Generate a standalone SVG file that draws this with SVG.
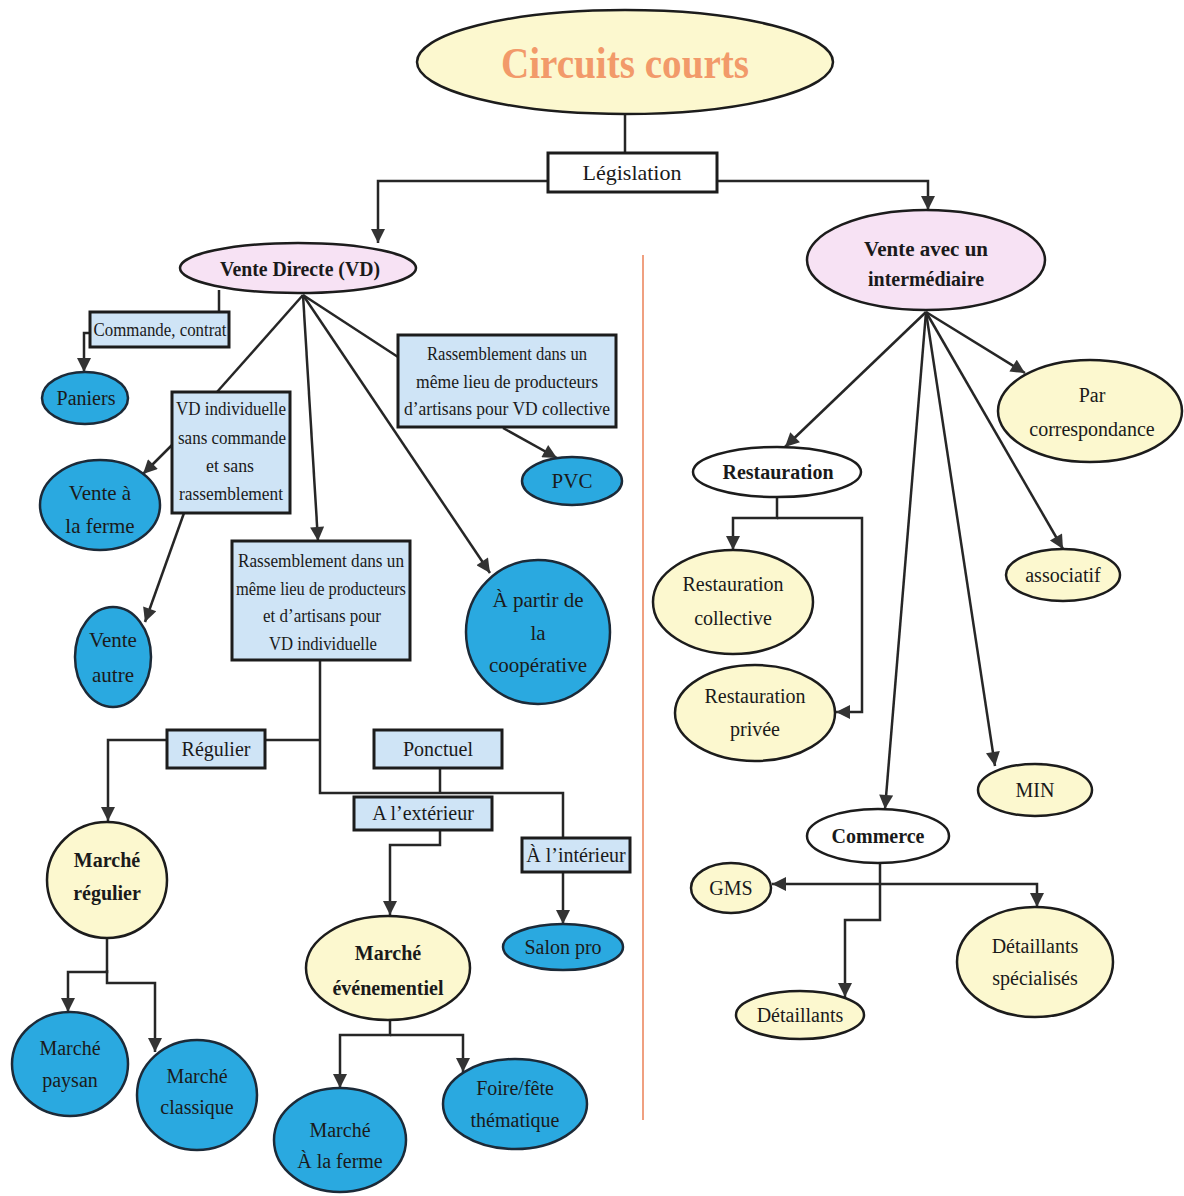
<svg xmlns="http://www.w3.org/2000/svg" width="1184" height="1196" viewBox="0 0 1184 1196">
<style>
text{font-family:"Liberation Serif","Times New Roman",serif;fill:#1a1a1a;text-anchor:middle}
.t{font-size:20px}
.s{font-size:18px}
.b{font-size:20px;font-weight:bold}
.blue{fill:#2aa9e0;stroke:#1c2a38;stroke-width:2.5}
.yel{fill:#fcf8cf;stroke:#1c1c1c;stroke-width:2.5}
.pink{fill:#f7e2f4;stroke:#1c1c1c;stroke-width:2.5}
.wht{fill:#ffffff;stroke:#1c1c1c;stroke-width:2.5}
.box{fill:#cfe4f6;stroke:#1c1c1c;stroke-width:3}
.wbox{fill:#ffffff;stroke:#1c1c1c;stroke-width:3}
.c path{fill:none;stroke:#262626;stroke-width:2.5}
.c path.a{marker-end:url(#ah)}
</style>
<defs>
<marker id="ah" viewBox="0 0 10 10" refX="10" refY="5" markerUnits="userSpaceOnUse" markerWidth="16" markerHeight="14" orient="auto">
<path d="M0,0 L10,5 L0,10 z" fill="#333"/>
</marker>
</defs>
<rect width="1184" height="1196" fill="#ffffff"/>
<line x1="643" y1="255" x2="643" y2="1120" stroke="#f0a080" stroke-width="2"/>

<g class="c" id="connectors">
<path d="M625 114 V153"/>
<path class="a" d="M548 181 H378 V243"/>
<path class="a" d="M717 181 H928 V210"/>
<path d="M219 290 V312"/>
<path class="a" d="M90 333 H84 V372"/>
<path d="M303 295 L217 392"/>
<path class="a" d="M173 444 L143 474"/>
<path class="a" d="M184 513 L145 622"/>
<path class="a" d="M303 295 L318 541"/>
<path d="M303 295 L398 357"/>
<path class="a" d="M503 428 L557 458"/>
<path class="a" d="M303 295 L490 573"/>
<path d="M320 660 V793 H563 V838"/>
<path d="M320 740 H265"/>
<path class="a" d="M167 740 H108 V821"/>
<path d="M440 768 V793"/>
<path class="a" d="M440 830 V845 H390 V915"/>
<path class="a" d="M563 872 V924"/>
<path class="a" d="M107 938 V972 H68 V1012"/>
<path class="a" d="M107 970 V983 H155 V1052"/>
<path class="a" d="M390 1020 V1035 H340 V1088"/>
<path class="a" d="M390 1035 H463 V1072"/>
<path class="a" d="M926 312 L785 447"/>
<path class="a" d="M926 312 L1025 373"/>
<path class="a" d="M926 312 L885 809"/>
<path class="a" d="M926 312 L995 766"/>
<path class="a" d="M926 312 L1063 549"/>
<path class="a" d="M777 497 V518 H733 V550"/>
<path class="a" d="M777 518 H862 V712 H836"/>
<path class="a" d="M880 862 V920 H845 V997"/>
<path class="a" d="M880 884 H772"/>
<path class="a" d="M880 884 H1037 V907"/>
</g>

<g id="title"><ellipse class="yel" cx="625" cy="62" rx="208" ry="52"/><text x="625" y="78" style="font-size:44px;font-weight:bold;fill:#f29a6a" textLength="248" lengthAdjust="spacingAndGlyphs">Circuits courts</text></g>
<g id="legislation"><rect class="wbox" x="548" y="153" width="169" height="39"/><text class="t" x="632" y="180" style="font-size:22px">Législation</text></g>
<g id="vd"><ellipse class="pink" cx="298" cy="268" rx="118" ry="25"/><text class="b" x="300" y="276" style="font-size:22px" textLength="160" lengthAdjust="spacingAndGlyphs">Vente Directe (VD)</text></g>
<g id="vi"><ellipse class="pink" cx="926" cy="260" rx="119" ry="50"/><text class="b" x="926" y="256" textLength="124" lengthAdjust="spacingAndGlyphs">Vente avec  un</text><text class="b" x="926" y="286" textLength="116" lengthAdjust="spacingAndGlyphs">intermédiaire</text></g>
<g id="commande"><rect class="box" x="90" y="312" width="139" height="35"/><text class="t" x="160" y="336" style="font-size:19px" textLength="133" lengthAdjust="spacingAndGlyphs">Commande, contrat</text></g>
<g id="paniers"><ellipse class="blue" cx="85" cy="398" rx="43" ry="26"/><text class="t" x="86" y="405">Paniers</text></g>
<g id="vdind"><rect class="box" x="172" y="392" width="118" height="121"/><text class="s" x="231" y="415" textLength="110" lengthAdjust="spacingAndGlyphs">VD individuelle</text><text class="s" x="232" y="444" textLength="108" lengthAdjust="spacingAndGlyphs">sans commande</text><text class="s" x="230" y="472" textLength="48" lengthAdjust="spacingAndGlyphs">et sans</text><text class="s" x="231" y="500" textLength="104" lengthAdjust="spacingAndGlyphs">rassemblement</text></g>
<g id="ferme"><ellipse class="blue" cx="100" cy="505" rx="60" ry="45"/><text class="t" x="100" y="500" style="font-size:21px">Vente à</text><text class="t" x="100" y="533" style="font-size:21px">la ferme</text></g>
<g id="autre"><ellipse class="blue" cx="113" cy="657" rx="38" ry="50"/><text class="t" x="113" y="647" style="font-size:21px">Vente</text><text class="t" x="113" y="682" style="font-size:21px">autre</text></g>
<g id="rasscoll"><rect class="box" x="398" y="335" width="218" height="92"/><text class="s" x="507" y="360" textLength="160" lengthAdjust="spacingAndGlyphs">Rassemblement dans un</text><text class="s" x="507" y="388" textLength="182" lengthAdjust="spacingAndGlyphs">même lieu de producteurs</text><text class="s" x="507" y="415" textLength="206" lengthAdjust="spacingAndGlyphs">d’artisans pour VD collective</text></g>
<g id="pvc"><ellipse class="blue" cx="572" cy="481" rx="50" ry="24"/><text class="t" x="572" y="488" style="font-size:21px">PVC</text></g>
<g id="rassind"><rect class="box" x="232" y="541" width="178" height="119"/><text class="s" x="321" y="567" textLength="166" lengthAdjust="spacingAndGlyphs">Rassemblement dans un</text><text class="s" x="321" y="595" textLength="170" lengthAdjust="spacingAndGlyphs">même lieu de producteurs</text><text class="s" x="322" y="622" textLength="118" lengthAdjust="spacingAndGlyphs">et d’artisans pour</text><text class="s" x="323" y="650" textLength="108" lengthAdjust="spacingAndGlyphs">VD individuelle</text></g>
<g id="coop"><ellipse class="blue" cx="538" cy="632" rx="72" ry="72"/><text class="t" x="538" y="607" style="font-size:21px">À partir de</text><text class="t" x="538" y="640" style="font-size:21px">la</text><text class="t" x="538" y="672" style="font-size:21px">coopérative</text></g>
<g id="regulier"><rect class="box" x="167" y="730" width="98" height="38"/><text class="t" x="216" y="756">Régulier</text></g>
<g id="ponctuel"><rect class="box" x="374" y="730" width="128" height="38"/><text class="t" x="438" y="756">Ponctuel</text></g>
<g id="exterieur"><rect class="box" x="354" y="797" width="138" height="33"/><text class="t" x="423" y="820">A l’extérieur</text></g>
<g id="interieur"><rect class="box" x="522" y="838" width="108" height="34"/><text class="t" x="576" y="862">À l’intérieur</text></g>
<g id="salon"><ellipse class="blue" cx="563" cy="947" rx="60" ry="23"/><text class="t" x="563" y="954">Salon pro</text></g>
<g id="mreg"><ellipse class="yel" cx="107" cy="880" rx="60" ry="58"/><text class="b" x="107" y="867">Marché</text><text class="b" x="107" y="900">régulier</text></g>
<g id="mevt"><ellipse class="yel" cx="388" cy="968" rx="82" ry="52"/><text class="b" x="388" y="960">Marché</text><text class="b" x="388" y="995">événementiel</text></g>
<g id="mpaysan"><ellipse class="blue" cx="70" cy="1064" rx="58" ry="52"/><text class="t" x="70" y="1055">Marché</text><text class="t" x="70" y="1087">paysan</text></g>
<g id="mclass"><ellipse class="blue" cx="197" cy="1095" rx="60" ry="55"/><text class="t" x="197" y="1083">Marché</text><text class="t" x="197" y="1114">classique</text></g>
<g id="mferme"><ellipse class="blue" cx="340" cy="1140" rx="66" ry="52"/><text class="t" x="340" y="1137">Marché</text><text class="t" x="340" y="1168">À la ferme</text></g>
<g id="foire"><ellipse class="blue" cx="515" cy="1104" rx="72" ry="45"/><text class="t" x="515" y="1095">Foire/fête</text><text class="t" x="515" y="1127">thématique</text></g>
<g id="corresp"><ellipse class="yel" cx="1090" cy="411" rx="92" ry="51"/><text class="t" x="1092" y="402">Par</text><text class="t" x="1092" y="436">correspondance</text></g>
<g id="restau"><ellipse class="wht" cx="777" cy="472" rx="84" ry="25"/><text class="b" x="778" y="479">Restauration</text></g>
<g id="rcoll"><ellipse class="yel" cx="733" cy="602" rx="80" ry="52"/><text class="t" x="733" y="591">Restauration</text><text class="t" x="733" y="625">collective</text></g>
<g id="rpriv"><ellipse class="yel" cx="755" cy="713" rx="80" ry="48"/><text class="t" x="755" y="703">Restauration</text><text class="t" x="755" y="736">privée</text></g>
<g id="assoc"><ellipse class="yel" cx="1063" cy="575" rx="57" ry="26"/><text class="t" x="1063" y="582">associatif</text></g>
<g id="min"><ellipse class="yel" cx="1035" cy="790" rx="57" ry="26"/><text class="t" x="1035" y="797">MIN</text></g>
<g id="commerce"><ellipse class="wht" cx="878" cy="836" rx="71" ry="27"/><text class="b" x="878" y="843">Commerce</text></g>
<g id="gms"><ellipse class="yel" cx="731" cy="888" rx="40" ry="25"/><text class="t" x="731" y="895">GMS</text></g>
<g id="detspec"><ellipse class="yel" cx="1035" cy="962" rx="78" ry="55"/><text class="t" x="1035" y="953">Détaillants</text><text class="t" x="1035" y="985">spécialisés</text></g>
<g id="det"><ellipse class="yel" cx="800" cy="1015" rx="64" ry="24"/><text class="t" x="800" y="1022">Détaillants</text></g>
</svg>
